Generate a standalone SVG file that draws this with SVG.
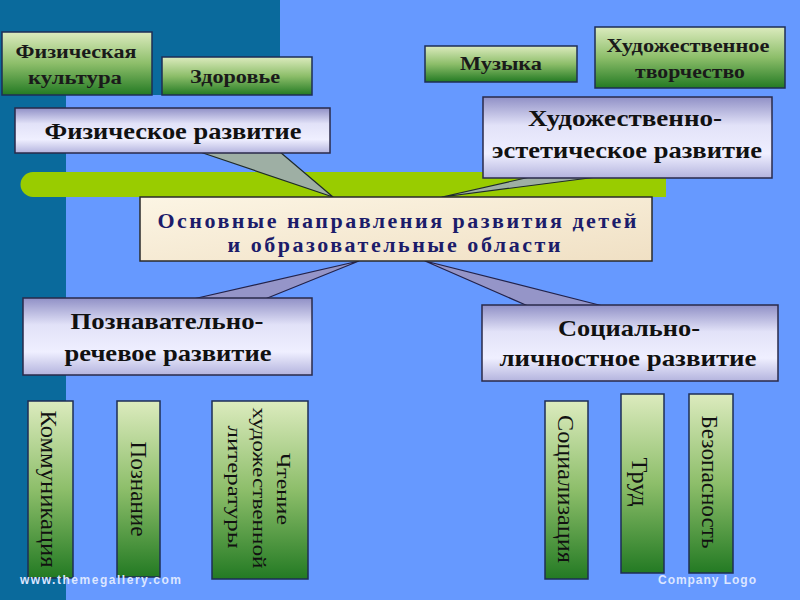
<svg xmlns="http://www.w3.org/2000/svg" width="800" height="600" viewBox="0 0 800 600">
<defs>
<linearGradient id="gGreen" x1="0" y1="0" x2="0" y2="1">
<stop offset="0" stop-color="#DCEBBE"/>
<stop offset="0.5" stop-color="#8DBE6A"/>
<stop offset="1" stop-color="#237A23"/>
</linearGradient>
<linearGradient id="gLav" x1="0" y1="0" x2="0" y2="1">
<stop offset="0" stop-color="#9090C6"/>
<stop offset="0.35" stop-color="#E2E2F8"/>
<stop offset="0.7" stop-color="#EFEFFF"/>
<stop offset="1" stop-color="#B4B4DE"/>
</linearGradient>
<linearGradient id="gCream" x1="0" y1="0" x2="1" y2="1">
<stop offset="0" stop-color="#FCF5E4"/>
<stop offset="1" stop-color="#F0E0C4"/>
</linearGradient>
<style>
.green{fill:url(#gGreen);stroke:#1E2E55;stroke-width:1.5}
.lav{fill:url(#gLav);stroke:#2A2A4A;stroke-width:1.5}
.ptrTop{fill:#9EAFA4;stroke:#1E2A2A;stroke-width:1.2;stroke-linejoin:round}
.ptrBot{fill:#9595C8;stroke:#22224A;stroke-width:1.2;stroke-linejoin:round}
.gt{font-family:"Liberation Serif","DejaVu Serif",serif;font-weight:bold;font-size:18px;fill:#1A1A1A;text-anchor:middle}
.ct{font-family:"Liberation Serif","DejaVu Serif",serif;font-weight:bold;font-size:24px;fill:#111111;text-anchor:middle}
.mt{font-family:"Liberation Serif","DejaVu Serif",serif;font-weight:bold;font-size:22px;fill:#1C1C6A;text-anchor:middle}
.vt{font-family:"Liberation Serif","DejaVu Serif",serif;font-size:23px;fill:#111111;text-anchor:middle}
.vs{font-family:"Liberation Serif","DejaVu Serif",serif;font-size:18px;fill:#111111;text-anchor:middle}
.ft{font-family:"Liberation Sans","DejaVu Sans",sans-serif;font-weight:bold;font-size:12px;fill:#DCE6FF}
</style>
</defs>
<rect x="0" y="0" width="800" height="600" fill="#6699FF"/>
<path d="M0 0 H280 V95 H66 V600 H0 Z" fill="#0A6A9C"/>
<path d="M33 172 H666 V197 H33 A12.5 12.5 0 0 1 33 172 Z" fill="#99CC00"/>

<g id="connectors">
<polygon class="ptrTop" points="200,152 280,152 333,197"/>
<polygon class="ptrTop" points="530,177 597,177 442,197"/>
<polygon class="ptrBot" points="359,261 193,299 265,299"/>
<polygon class="ptrBot" points="425,261 528,306 603,306"/>
</g>

<g id="node-fizkult">
<rect class="green" x="2" y="32" width="150" height="63"/>
<text class="gt" x="76" y="58" textLength="121" lengthAdjust="spacingAndGlyphs">Физическая</text>
<text class="gt" x="75" y="84" textLength="94" lengthAdjust="spacingAndGlyphs">культура</text>
</g>
<g id="node-zdorovie">
<rect class="green" x="162" y="57" width="150" height="38"/>
<text class="gt" x="235" y="83" textLength="90" lengthAdjust="spacingAndGlyphs">Здоровье</text>
</g>
<g id="node-muzyka">
<rect class="green" x="425" y="46" width="152" height="36"/>
<text class="gt" x="501" y="70" textLength="82" lengthAdjust="spacingAndGlyphs">Музыка</text>
</g>
<g id="node-tvorchestvo">
<rect class="green" x="595" y="27" width="190" height="61"/>
<text class="gt" x="688" y="52" textLength="163" lengthAdjust="spacingAndGlyphs">Художественное</text>
<text class="gt" x="690" y="78" textLength="110" lengthAdjust="spacingAndGlyphs">творчество</text>
</g>

<g id="node-fiz-razv">
<rect class="lav" x="15" y="108" width="315" height="45"/>
<text class="ct" x="173" y="139" textLength="257" lengthAdjust="spacingAndGlyphs">Физическое развитие</text>
</g>
<g id="node-hud-est">
<rect class="lav" x="483" y="97" width="289" height="81"/>
<text class="ct" x="625" y="126" textLength="194" lengthAdjust="spacingAndGlyphs">Художественно-</text>
<text class="ct" x="627" y="158" textLength="270" lengthAdjust="spacingAndGlyphs">эстетическое развитие</text>
</g>

<g id="node-center">
<rect x="140" y="197" width="512" height="64" fill="url(#gCream)" stroke="#2A2A2A" stroke-width="1.5"/>
<text class="mt" x="397" y="228" textLength="479" lengthAdjust="spacing">Основные направления развития детей</text>
<text class="mt" x="394" y="252" textLength="333" lengthAdjust="spacing">и образовательные области</text>
</g>

<g id="node-pozn-rech">
<rect class="lav" x="23" y="298" width="289" height="77"/>
<text class="ct" x="167" y="329" textLength="193" lengthAdjust="spacingAndGlyphs">Познавательно-</text>
<text class="ct" x="168" y="361" textLength="207" lengthAdjust="spacingAndGlyphs">речевое развитие</text>
</g>
<g id="node-soc-lich">
<rect class="lav" x="482" y="305" width="296" height="76"/>
<text class="ct" x="629" y="336" textLength="142" lengthAdjust="spacingAndGlyphs">Социально-</text>
<text class="ct" x="628" y="366" textLength="257" lengthAdjust="spacingAndGlyphs">личностное развитие</text>
</g>

<g id="node-kommunikaciya">
<rect class="green" x="28" y="401" width="45" height="177"/>
<text class="vt" transform="translate(41,489) rotate(90)" textLength="157" lengthAdjust="spacingAndGlyphs">Коммуникация</text>
</g>
<g id="node-poznanie">
<rect class="green" x="117" y="401" width="43" height="176"/>
<text class="vt" transform="translate(131,489) rotate(90)" textLength="95" lengthAdjust="spacingAndGlyphs">Познание</text>
</g>
<g id="node-chtenie">
<rect class="green" x="212" y="401" width="96" height="178"/>
<text class="vs" transform="translate(277,489) rotate(90)" textLength="72" lengthAdjust="spacingAndGlyphs">Чтение</text>
<text class="vs" transform="translate(253,488) rotate(90)" textLength="161" lengthAdjust="spacingAndGlyphs">художественной</text>
<text class="vs" transform="translate(228,487) rotate(90)" textLength="123" lengthAdjust="spacingAndGlyphs">литературы</text>
</g>
<g id="node-socializaciya">
<rect class="green" x="545" y="401" width="43" height="178"/>
<text class="vt" transform="translate(558,489) rotate(90)" textLength="148" lengthAdjust="spacingAndGlyphs">Социализация</text>
</g>
<g id="node-trud">
<rect class="green" x="621" y="394" width="43" height="179"/>
<text class="vt" transform="translate(632,482) rotate(90)" textLength="49" lengthAdjust="spacingAndGlyphs">Труд</text>
</g>
<g id="node-bezopasnost">
<rect class="green" x="689" y="394" width="44" height="179"/>
<text class="vt" transform="translate(702,482) rotate(90)" textLength="133" lengthAdjust="spacingAndGlyphs">Безопасность</text>
</g>

<text class="ft" x="20" y="584" textLength="161" lengthAdjust="spacing">www.themegallery.com</text>
<text class="ft" x="658" y="584" font-size="13" textLength="98" lengthAdjust="spacing">Company Logo</text>
</svg>
